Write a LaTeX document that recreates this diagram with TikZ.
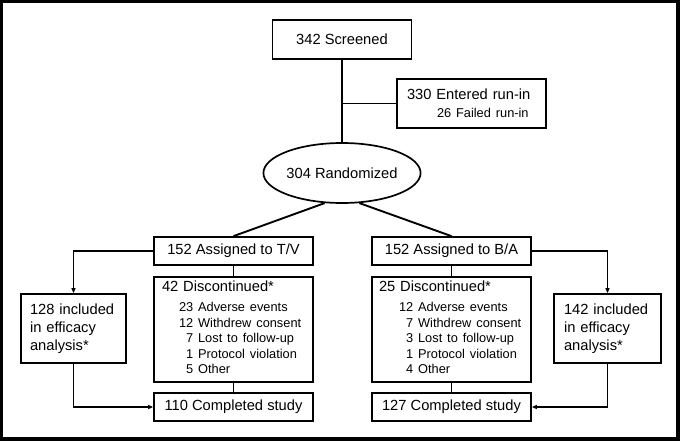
\documentclass[tikz,border=0pt]{standalone}
\usepackage{fontspec}
\setmainfont{Liberation Sans}
\usetikzlibrary{shapes.geometric,arrows.meta}
\newcommand{\mainsz}{\fontsize{14.7}{18}\selectfont}
\newcommand{\subsz}{\fontsize{12.8}{15.5}\selectfont}

\begin{document}
\begin{tikzpicture}[x=1pt, y=-1pt,
    box/.style={shape=rectangle, draw, line width=1.7pt, inner sep=0pt, font=\mainsz},
    flow/.style={line width=1.9pt},
    feed/.style={line width=1.8pt, -{Triangle[length=5pt,width=4pt]}}]
    \useasboundingbox (0,0) rectangle (680,441);
    \fill[black] (0,0) rectangle (680,441);
    \fill[white] (3,3) rectangle (676,437);

    \node at (342, 39.5) (screen) [box, minimum width=139, minimum height=39] {342 Screened};
    \node at (471.5, 103.5) (runin) [box, minimum width=149, minimum height=49, align=left, text width=129, inner xsep=10] {330 Entered run-in\\\hspace*{30pt}{\subsz 26 Failed run-in}};
    \node at (342, 173) (rand) [box, shape=ellipse, minimum width=135, minimum height=60] {304 Randomized};

    % T/V arm
    \node at (233.5, 251) (tv) [box, minimum width=159, minimum height=28] {152 Assigned to T/V};
    \node at (233.5, 329.5) (stopTV) [box, minimum width=159, minimum height=105, align=left, text width=143, inner xsep=8] {42 Discontinued*\\[2pt]\hspace*{17pt}\subsz\begin{tabular}[t]{@{}r@{ }l@{}}23&Adverse events\\12&Withdrew consent\\7&Lost to follow-up\\1&Protocol violation\\5&Other\end{tabular}};
    \node at (233.5, 407) (doneTV) [box, minimum width=159, minimum height=28] {110 Completed study};
    \node at (73.5, 328.5) (effTV) [box, minimum width=105, minimum height=69, align=left, text width=87, inner xsep=9] {128 included\\in efficacy\\analysis*};

    % B/A arm
    \node at (451.5, 251) (ba) [box, minimum width=159, minimum height=28] {152 Assigned to B/A};
    \node at (451.5, 329.5) (stopBA) [box, minimum width=159, minimum height=105, align=left, text width=145, inner xsep=7] {25 Discontinued*\\[2pt]\hspace*{20pt}\subsz\begin{tabular}[t]{@{}r@{ }l@{}}12&Adverse events\\7&Withdrew consent\\3&Lost to follow-up\\1&Protocol violation\\4&Other\end{tabular}};
    \node at (451.5, 407) (doneBA) [box, minimum width=159, minimum height=28] {127 Completed study};
    \node at (607.5, 328.5) (effBA) [box, minimum width=107, minimum height=69, align=left, text width=87, inner xsep=10] {142 included\\in efficacy\\analysis*};

    \draw[flow] (screen.south) -- (rand.north);
    \draw[flow] (runin.west) -- (runin.west -| rand.north);
    \draw[flow] (rand.-120) -- (tv.north);
    \draw[flow] (rand.-60) -- (ba.north);

    \draw[flow] (tv.south) -- (stopTV.north);
    \draw[flow] (stopTV.south) -- (doneTV.north);
    \draw[feed] (tv.west) -| (effTV.north);
    \draw[feed] (effTV.south) |- (doneTV.west);

    \draw[flow] (ba.south) -- (stopBA.north);
    \draw[flow] (stopBA.south) -- (doneBA.north);
    \draw[feed] (ba.east) -| (effBA.north);
    \draw[feed] (effBA.south) |- (doneBA.east);
\end{tikzpicture}
\end{document}
